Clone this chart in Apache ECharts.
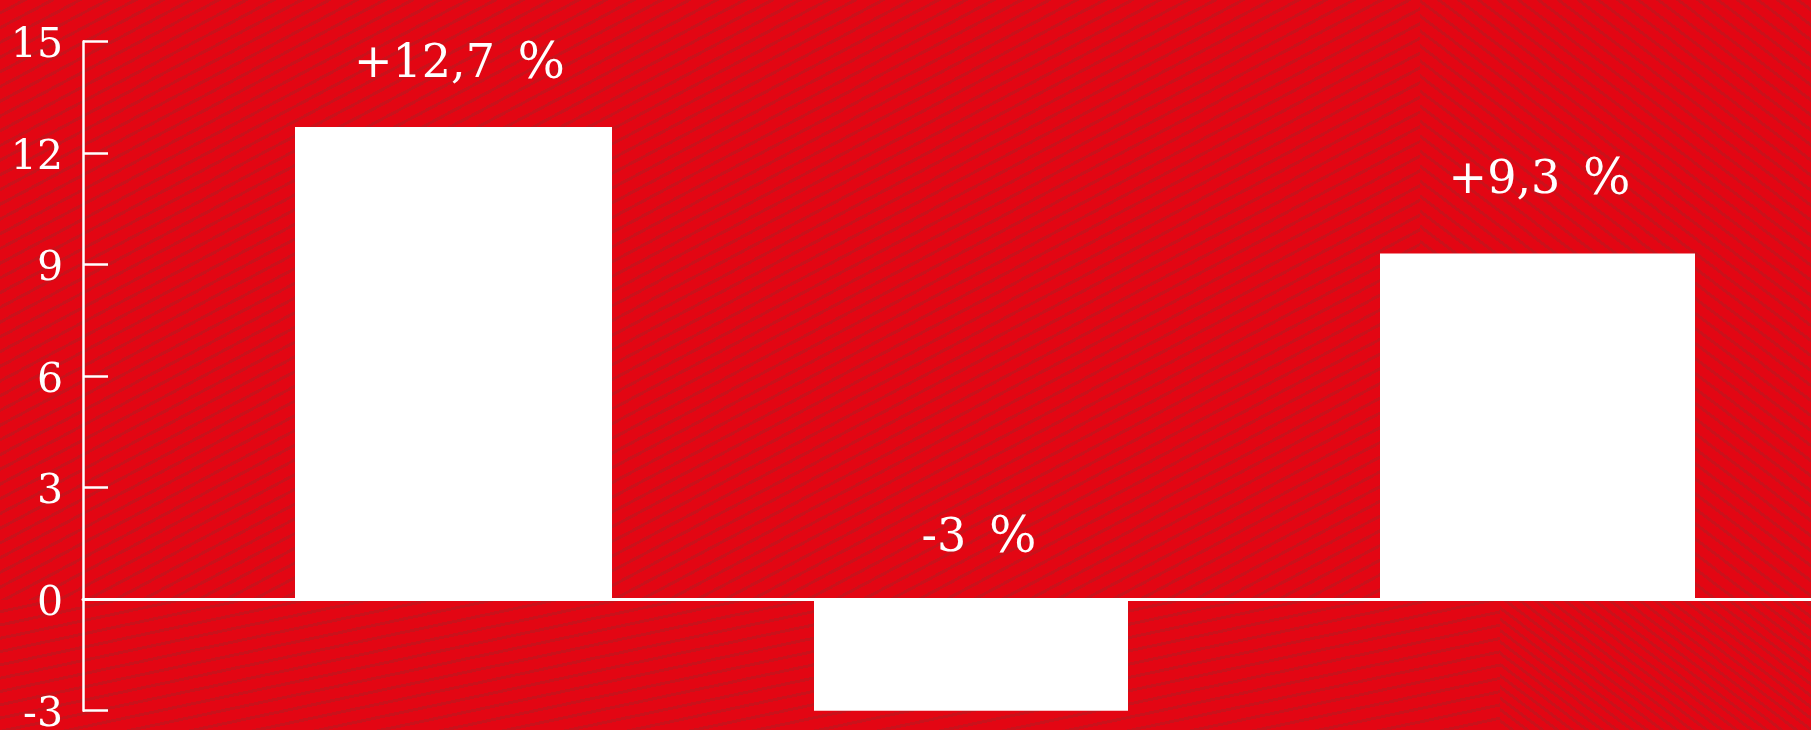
<!DOCTYPE html>
<html>
<head>
<meta charset="utf-8">
<script src="https://cdn.jsdelivr.net/npm/echarts@6/dist/echarts.min.js"></script>
<style>
  html, body { margin: 0; padding: 0; background: #e30613; overflow: hidden; }
  #wrap { position: relative; width: 1811px; height: 730px; overflow: hidden; background: #e30613; }
  .bg { position: absolute; }
  #bgA { left: 0; top: 0; width: 1420px; height: 600px;
    background: repeating-linear-gradient(152deg, #e30613 0px, #e30613 10px, #c9121b 10px, #c9121b 13px); }
  #bgB { left: 0; top: 600px; width: 1500px; height: 130px;
    background: repeating-linear-gradient(168deg, #e30613 0px, #e30613 10px, #c9121b 10px, #c9121b 13px); }
  #bgC { left: 1420px; top: 0; width: 391px; height: 600px;
    background: repeating-linear-gradient(37deg, #e30613 0px, #e30613 9px, #c9121b 9px, #c9121b 12px); }
  #bgD { left: 1500px; top: 600px; width: 311px; height: 130px;
    background: repeating-linear-gradient(37deg, #e30613 0px, #e30613 6px, #c9121b 6px, #c9121b 9px); }
  #chart { position: absolute; left: 0; top: 0; width: 1811px; height: 730px; }
</style>
</head>
<body>
<div id="wrap">
  <div class="bg" id="bgA"></div>
  <div class="bg" id="bgB"></div>
  <div class="bg" id="bgC"></div>
  <div class="bg" id="bgD"></div>
  <div id="chart"></div>
</div>
<script>
// ---- data ----
const categories = ['A', 'B', 'C'];
const values = [12.7, -3, 9.3];
const yMin = -3;
const yMax = 15;
const yInterval = 3;

// ---- layout / style ----
const FONT = '"DejaVu Serif", "Liberation Serif", serif';
const TOP = 41.5;
const BOTTOM = 19.3;
const barGrids = [
  { left: 295, width: 317, dist: 37, off: 6 },
  { left: 814, width: 314, dist: 35, off: 8 },
  { left: 1380, width: 315, dist: 47, off: 2 }
];

function fmtLabel(v) {
  const s = String(Math.abs(v)).replace('.', ',');
  return '{n|' + (v > 0 ? '+' : '-') + s + ' }{p|%}';
}

const grid = [{ left: 83, right: 0, top: TOP, bottom: BOTTOM, containLabel: false, outerBoundsMode: 'none' }];
const xAxis = [{
  gridIndex: 0, type: 'category', data: categories, boundaryGap: true,
  axisLine: { show: true, onZero: true, lineStyle: { color: '#ffffff', width: 3 } },
  axisTick: { show: false }, axisLabel: { show: false }, splitLine: { show: false }
}];
const yAxis = [{
  gridIndex: 0, type: 'value', min: yMin, max: yMax, interval: yInterval,
  axisLine: { show: true, lineStyle: { color: '#ffffff', width: 2.5 } },
  axisTick: { show: true, inside: true, length: 25, lineStyle: { color: '#ffffff', width: 2.5 } },
  axisLabel: { color: '#ffffff', fontFamily: FONT, fontSize: 41, margin: 20,
    verticalAlign: 'top', lineHeight: 10 },
  splitLine: { show: false }
}];
const series = [];

barGrids.forEach((g, i) => {
  const gi = i + 1;
  grid.push({ left: g.left, width: g.width, top: TOP, bottom: BOTTOM, containLabel: false, outerBoundsMode: 'none' });
  xAxis.push({ gridIndex: gi, type: 'category', data: [categories[i]], show: false });
  yAxis.push({ gridIndex: gi, type: 'value', min: yMin, max: yMax, interval: yInterval, show: false });
  series.push({
    type: 'bar', xAxisIndex: gi, yAxisIndex: gi,
    data: [values[i]], barWidth: '100%',
    itemStyle: { color: '#ffffff' },
    label: {
      show: true, position: 'top', distance: g.dist, offset: [g.off, 0],
      color: '#ffffff', fontFamily: FONT, fontSize: 46,
      formatter: p => fmtLabel(p.value),
      rich: {
        n: { color: '#ffffff', fontFamily: FONT, fontSize: 46 },
        p: { color: '#ffffff', fontFamily: FONT, fontSize: 50, padding: [0, 0, 0, 8] }
      }
    },
    silent: true, animation: false
  });
});

const chart = echarts.init(document.getElementById('chart'), null, { renderer: 'canvas' });
chart.setOption({
  backgroundColor: 'transparent',
  animation: false,
  grid, xAxis, yAxis, series
});
</script>
</body>
</html>
